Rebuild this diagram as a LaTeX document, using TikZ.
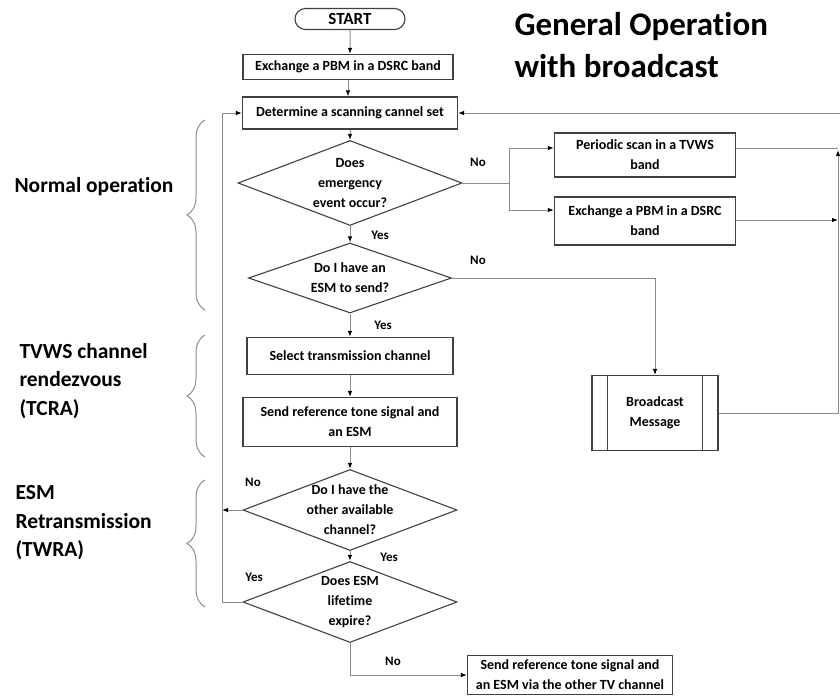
\documentclass[tikz,border=0pt]{standalone}
\usepackage{fontspec}
\setmainfont{Carlito}[Ligatures=NoCommon]
\usetikzlibrary{shapes.geometric,shapes.misc,arrows.meta,decorations.pathreplacing}
\begin{document}
\begin{tikzpicture}[x=1pt,y=-1pt,
  box/.style={draw=black!75, line width=1.1pt, fill=white, font=\bfseries\fontsize{14}{20}\selectfont, align=center, inner sep=0pt},
  dia/.style={diamond, draw=black!75, line width=1.1pt, inner sep=0pt},
  dtext/.style={font=\bfseries\fontsize{14}{20}\selectfont, align=center},
  line/.style={draw=black!45, line width=1pt},
  conn/.style={line, -{Latex[length=6pt,width=4.5pt,color=black]}},
  lab/.style={font=\bfseries\fontsize{13}{15}\selectfont},
  side/.style={font=\bfseries\fontsize{21.5}{28.5}\selectfont, align=left, anchor=west},
  ttl/.style={font=\bfseries\fontsize{33}{40}\selectfont, anchor=base west},
  brace/.style={draw=black!45, line width=1pt, decorate, decoration={brace, amplitude=18pt}}
]
\useasboundingbox (0,0) rectangle (840,697);

% title
\node[ttl] (title1) at (511,35) {General Operation};
\node[ttl] (title2) at (511,77) {with broadcast};

% main column
\node[rounded rectangle, draw=black!75, line width=1.1pt, minimum width=110pt, minimum height=21pt, inner sep=0pt, font=\bfseries\fontsize{17}{18}\selectfont] (start) at (350,19) {START};
\node[box, minimum width=210pt, minimum height=25pt] (ex1) at (348,67) {Exchange a PBM in a DSRC band};
\node[box, minimum width=215pt, minimum height=32pt] (det) at (350,113) {Determine a scanning cannel set};
\node[dia, minimum width=224pt, minimum height=85pt, label={[dtext]center:{Does\\emergency\\event occur?}}] (d1) at (350,183) {};
\node[dia, minimum width=203pt, minimum height=70pt, label={[dtext]center:{Do I have an\\ESM to send?}}] (d2) at (350,278) {};
\node[box, minimum width=206pt, minimum height=37pt] (sel) at (350,356) {Select transmission channel};
\node[box, minimum width=214pt, minimum height=49pt] (snd) at (350,422) {Send reference tone signal and\\an ESM};
\node[dia, minimum width=214pt, minimum height=81pt, label={[dtext]center:{Do I have the\\other available\\channel?}}] (d3) at (350,510) {};
\node[dia, minimum width=214pt, minimum height=81pt, label={[dtext]center:{Does ESM\\lifetime\\expire?}}] (d4) at (350,602) {};
\node[box, minimum width=205pt, minimum height=39pt] (fin) at (570,675) {Send reference tone signal and\\an ESM via the other TV channel};

% right column
\node[box, minimum width=181pt, minimum height=44pt] (per) at (645,155) {Periodic scan in a TVWS\\band};
\node[box, minimum width=181pt, minimum height=48pt] (ex2) at (645,221) {Exchange a PBM in a DSRC\\band};
\node[box, minimum width=126pt, minimum height=75pt] (bm) at (655,413) {Broadcast\\Message};
\draw[draw=black!75, line width=1.1pt] ([xshift=16pt]bm.north west) -- ([xshift=16pt]bm.south west)
      ([xshift=-16pt]bm.north east) -- ([xshift=-16pt]bm.south east);

% coordinates
\coordinate (br) at (509,183);
\coordinate (rP) at (838,148);
\coordinate (rE) at (838,220);
\coordinate (rB) at (838,413);
\coordinate (rT) at (840,113);
\coordinate (bc) at (655,278);
\coordinate (lB) at (222,602);
\coordinate (lM) at (222,510);
\coordinate (lT) at (222,113);

% vertical flow
\draw[conn] (start) -- (start |- ex1.north);
\draw[conn] (ex1) -- (ex1 |- det.north);
\draw[conn] (det) -- (d1.north);
\draw[conn] (d1.south) -- (d2.north);
\draw[conn] (d2.south) -- (sel.north);
\draw[conn] (sel) -- (snd.north);
\draw[conn] (snd) -- (d3.north);
\draw[conn] (d3.south) -- (d4.north);
\draw[conn] (d4.south) |- (fin.west);

% branches
\draw[line] (d1.east) -- (br);
\draw[conn] (br) |- ([yshift=7pt]per.west);
\draw[conn] (br) |- ([yshift=11pt]ex2.west);
\draw[line] ([yshift=7pt]per.east) -- (rP);
\draw[conn] ([yshift=1pt]ex2.east) -- (rE);
\draw[conn] (bm.east) -- (rB) -- ([yshift=-2pt]rP);
\draw[conn] (rT) -- (det.east);
\draw[conn] (d2.east) -- (bc) -- (bm.north);
\draw[conn] (d3.west) -- (lM);
\draw[conn] (d4.west) -- (lB) -- (lT) -- (det.west);

% labels
\node[lab] (n1) at (478,162) {No};
\node[lab] (y1) at (380,235) {Yes};
\node[lab] (n2) at (478,260) {No};
\node[lab] (y2) at (383,325) {Yes};
\node[lab] (n3) at (253,482) {No};
\node[lab] (y3) at (389,557) {Yes};
\node[lab] (y4) at (254,577) {Yes};
\node[lab] (n4) at (393,661) {No};

% side braces and labels
\draw[brace] (205,310) -- (205,120);
\draw[brace] (205,457) -- (205,335);
\draw[brace] (205,607) -- (205,480);
\node[side] (s1) at (11,187) {Normal operation};
\node[side] (s2) at (16,381) {TVWS channel\\rendezvous\\(TCRA)};
\node[side] (s3) at (12,523) {ESM\\Retransmission\\(TWRA)};
\end{tikzpicture}
\end{document}
